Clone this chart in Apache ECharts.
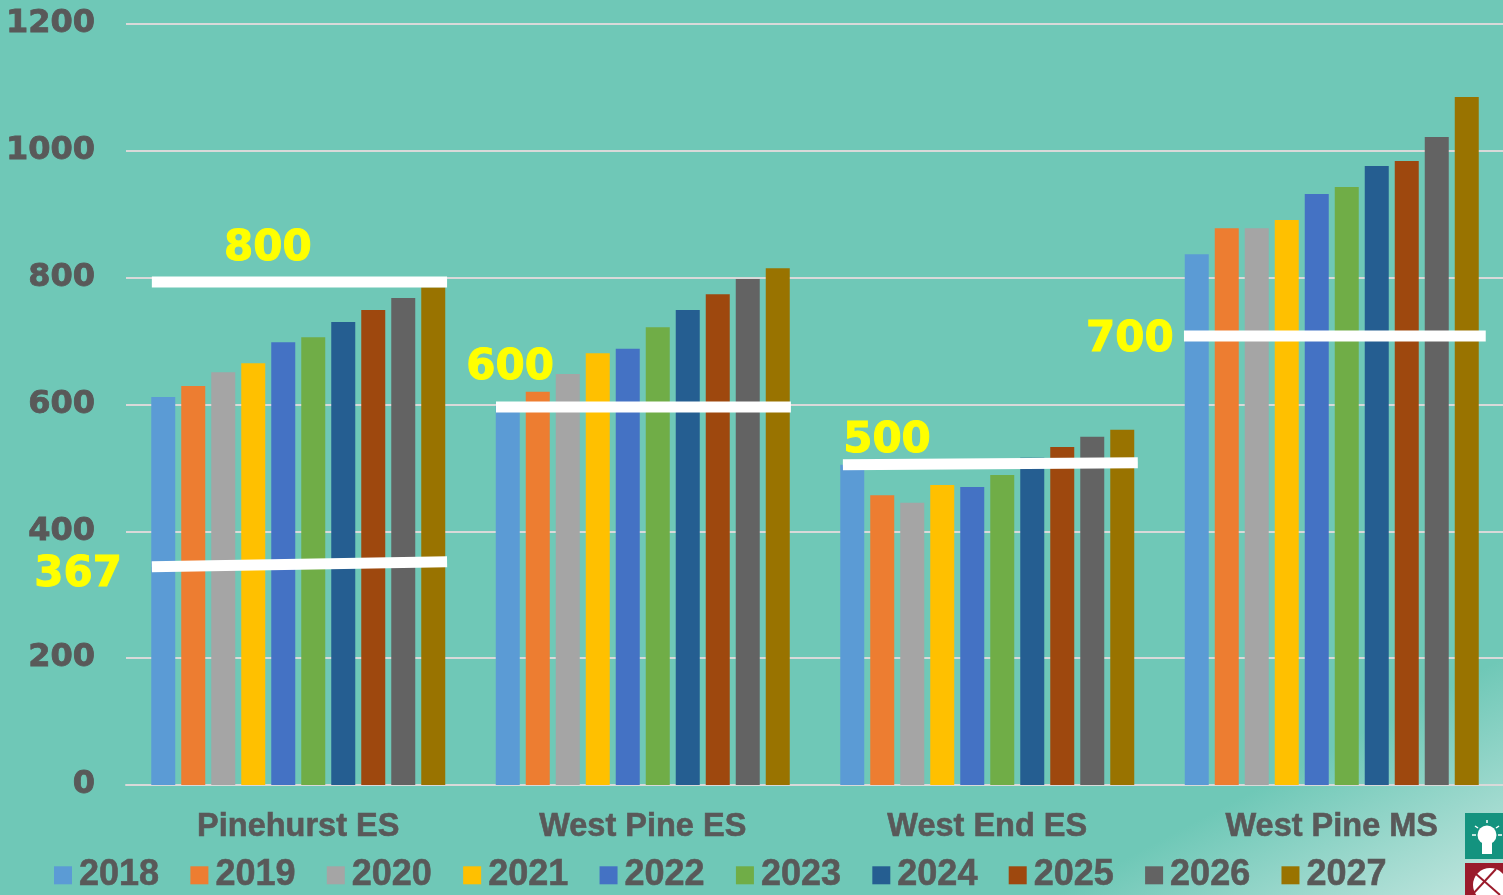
<!DOCTYPE html>
<html>

<head>
  <meta charset="utf-8">
  <style>
    html, body { margin: 0; height: 100%; overflow: hidden; }
    #container {
      width: 1503px; height: 895px;
      background: linear-gradient(152deg, #6fc8b7 0%, #6fc8b7 86%, #c2e6df 100%);
    }
  </style>
  <script type="text/javascript" src="https://cdn.jsdelivr.net/npm/echarts@6/dist/echarts.min.js"></script>
</head>

<body>
  <div id="container"></div>
  <script type="text/javascript">
    var schools = ['Pinehurst ES', 'West Pine ES', 'West End ES', 'West Pine MS'];
    var years = ['2018', '2019', '2020', '2021', '2022', '2023', '2024', '2025', '2026', '2027'];
    var yearColors = ['#5B9BD5', '#ED7D31', '#A5A5A5', '#FFC000', '#4472C4', '#70AD47', '#255E91', '#9E480E', '#636363', '#997300'];
    var yTicks = { min: 0, max: 1200, interval: 200 };

    // one value per year, 2018 to 2027
    var pinehurst = [612, 629, 651, 665, 698, 706, 730, 749, 768, 785];
    var westPineES = [598, 620, 648, 681, 688, 722, 749, 774, 798, 815];
    var westEndES = [505, 457, 445, 473, 470, 489, 516, 533, 549, 560];
    var westPineMS = [837, 878, 878, 891, 932, 943, 976, 984, 1022, 1085];
    var enrolment = [pinehurst, westPineES, westEndES, westPineMS];

    // hand drawn capacity bars: [x in school units, value] at each end
    var capacityLines = [
      [[0.075, 793], [0.932, 793]],
      [[0.075, 344], [0.932, 352]],
      [[1.074, 596], [1.93, 596]],
      [[2.081, 505], [2.937, 508]],
      [[3.071, 708], [3.947, 708]]
    ];
    // [x in school units, value, text]
    var capacityLabels = [
      [0.412, 851, '800'],
      [-0.139, 337, '367'],
      [1.115, 664, '600'],
      [2.209, 549, '500'],
      [2.914, 708, '700']
    ];

    var myChart = echarts.init(document.getElementById('container'));
    var series = [];
    for (var i = 0; i < years.length; i++) {
      series.push({
        name: years[i],
        type: 'bar',
        barWidth: 24,
        barGap: '25%',
        itemStyle: { color: yearColors[i] },
        data: enrolment.map(function (row) { return row[i]; })
      });
    }
    capacityLines.forEach(function (line) {
      series.push({
        type: 'line',
        xAxisIndex: 1,
        symbol: 'none',
        clip: false,
        z: 5,
        silent: true,
        lineStyle: { color: '#ffffff', width: 11 },
        data: line
      });
    });
    series.push({
      type: 'scatter',
      xAxisIndex: 1,
      symbolSize: 0,
      clip: false,
      z: 6,
      silent: true,
      itemStyle: { opacity: 1 },
      label: {
        show: true,
        position: 'inside',
        offset: [0, 4],
        formatter: function (p) { return p.value[2]; },
        color: '#ffff00',
        opacity: 1,
        fontFamily: 'DejaVu Sans',
        fontWeight: 'bold',
        fontSize: 42,
        textBorderColor: '#ffff00',
        textBorderWidth: 1
      },
      data: capacityLabels
    });

    myChart.setOption({
      animation: false,
      backgroundColor: 'transparent',
      grid: { left: 126, right: -1, top: 24, bottom: 110, outerBoundsMode: 'none' },
      legend: {
        data: years,
        left: 49,
        top: 852,
        icon: 'rect',
        itemWidth: 18,
        itemHeight: 18,
        itemGap: 31,
        textStyle: {
          color: '#595959',
          fontFamily: 'Liberation Sans',
          fontWeight: 'bold',
          fontSize: 36,
          padding: [0, 0, 0, 2],
          textBorderColor: '#595959',
          textBorderWidth: 0.6
        }
      },
      xAxis: [{
        type: 'category',
        data: schools,
        axisTick: { show: false },
        axisLine: { lineStyle: { color: '#d9d9d9', width: 2 } },
        axisLabel: {
          margin: 26,
          color: '#595959',
          fontFamily: 'Liberation Sans',
          fontWeight: 'bold',
          fontSize: 32.5,
          textBorderColor: '#595959',
          textBorderWidth: 0.6
        }
      }, {
        type: 'value',
        min: 0,
        max: 4,
        show: false
      }],
      yAxis: {
        type: 'value',
        min: yTicks.min,
        max: yTicks.max,
        interval: yTicks.interval,
        axisLine: { show: false },
        axisTick: { show: false },
        splitLine: { lineStyle: { color: '#d9d9d9', width: 2 } },
        axisLabel: {
          margin: 31,
          formatter: function (v) { return String(v); },
          padding: [9, 0, 0, 0],
          color: '#595959',
          fontFamily: 'DejaVu Sans',
          fontWeight: 'bold',
          fontSize: 32,
          textBorderColor: '#595959',
          textBorderWidth: 0.8
        }
      },
      graphic: [
        // corner icons from the slide
        { type: 'rect', shape: { x: 1465, y: 813, width: 38, height: 46 }, style: { fill: '#14937f' } },
        { type: 'circle', shape: { cx: 1487, cy: 835, r: 9.5 }, style: { fill: '#ffffff' } },
        { type: 'rect', shape: { x: 1482, y: 842, width: 10, height: 12 }, style: { fill: '#ffffff' } },
        { type: 'line', shape: { x1: 1472, y1: 835, x2: 1476, y2: 835 }, style: { stroke: '#ffffff', lineWidth: 1.5 } },
        { type: 'line', shape: { x1: 1475, y1: 826, x2: 1478, y2: 828 }, style: { stroke: '#ffffff', lineWidth: 1.5 } },
        { type: 'line', shape: { x1: 1487, y1: 820, x2: 1487, y2: 823 }, style: { stroke: '#ffffff', lineWidth: 1.5 } },
        { type: 'line', shape: { x1: 1499, y1: 826, x2: 1496, y2: 828 }, style: { stroke: '#ffffff', lineWidth: 1.5 } },
        { type: 'line', shape: { x1: 1498, y1: 835, x2: 1502, y2: 835 }, style: { stroke: '#ffffff', lineWidth: 1.5 } },
        { type: 'rect', shape: { x: 1465, y: 863, width: 38, height: 32 }, style: { fill: '#9a1b2b' } },
        { type: 'circle', shape: { cx: 1490, cy: 885, r: 17 }, style: { fill: '#ffffff' } },
        { type: 'line', shape: { x1: 1476, y1: 874, x2: 1500, y2: 895 }, style: { stroke: '#9a1b2b', lineWidth: 2 } },
        { type: 'line', shape: { x1: 1472, y1: 895, x2: 1496, y2: 869 }, style: { stroke: '#9a1b2b', lineWidth: 2 } }
      ],
      series: series
    });
  </script>
</body>

</html>
